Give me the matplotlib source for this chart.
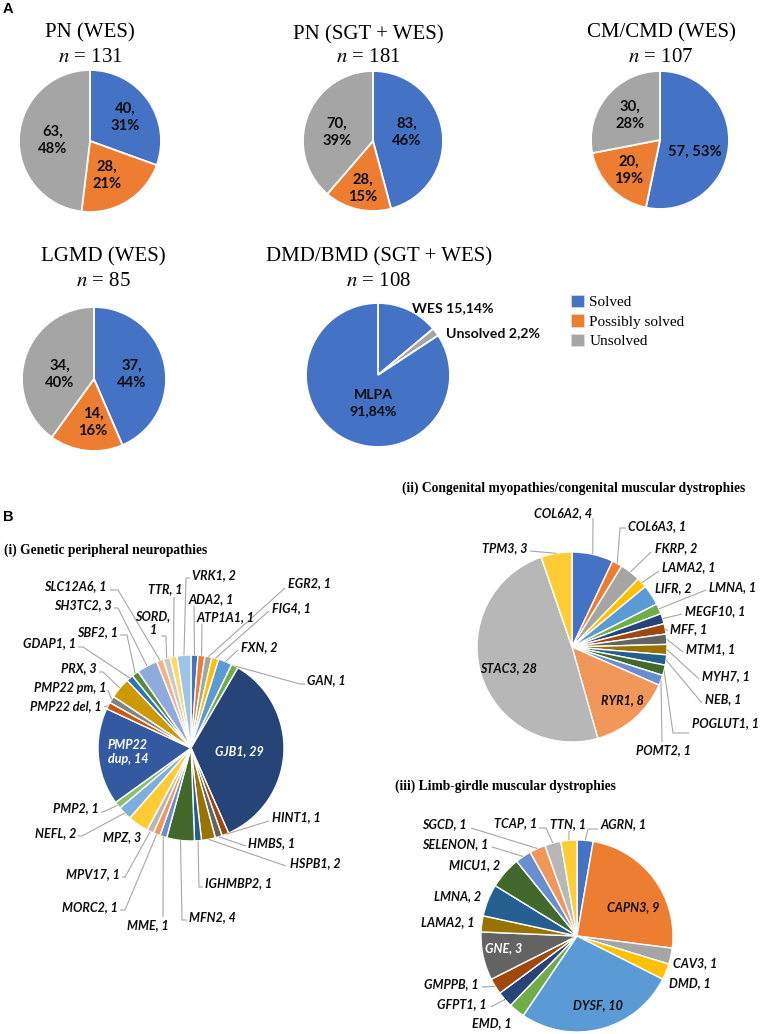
import matplotlib
matplotlib.use('Agg')
import matplotlib.pyplot as plt
import numpy as np

W, H = 760, 1034
plt.rcParams['mathtext.fontset'] = 'stix'

# ---------------- data: panel A ----------------
status_labels = ['Solved', 'Possibly solved', 'Unsolved']
status_colors = ['#4472C4', '#ED7D31', '#A5A5A5']

panelA_titles = ['PN (WES)', 'PN (SGT + WES)', 'CM/CMD (WES)', 'LGMD (WES)', 'DMD/BMD (SGT + WES)']
panelA_n = [131, 181, 107, 85, 108]
pn_wes = [40, 28, 63]
pn_sgt_wes = [83, 28, 70]
cm_cmd_wes = [57, 20, 30]
lgmd_wes = [37, 14, 34]

dmd_parts = ['WES', 'Unsolved', 'MLPA']
dmd_values = [15, 2, 91]
dmd_status = [0, 2, 0]

# ---------------- data: panel B ----------------
pn_genes = ['ADA2', 'ATP1A1', 'EGR2', 'FIG4', 'FXN', 'GAN', 'GJB1', 'HINT1', 'HMBS', 'HSPB1',
            'IGHMBP2', 'MFN2', 'MME', 'MORC2', 'MPV17', 'MPZ', 'NEFL', 'PMP2', 'PMP22 dup',
            'PMP22 del', 'PMP22 pm', 'PRX', 'GDAP1', 'SBF2', 'SH3TC2', 'SLC12A6', 'SORD', 'TTR', 'VRK1']
pn_counts = [1, 1, 1, 1, 2, 1, 29, 1, 1, 2, 1, 4, 1, 1, 1, 3, 2, 1, 14, 1, 1, 3, 1, 1, 3, 1, 1, 1, 2]

cm_genes = ['COL6A2', 'COL6A3', 'FKRP', 'LAMA2', 'LIFR', 'LMNA', 'MEGF10', 'MFF', 'MTM1', 'MYH7',
            'NEB', 'POGLUT1', 'POMT2', 'RYR1', 'STAC3', 'TPM3']
cm_counts = [4, 1, 2, 1, 2, 1, 1, 1, 1, 1, 1, 1, 1, 8, 28, 3]

lg_genes = ['AGRN', 'CAPN3', 'CAV3', 'DMD', 'DYSF', 'EMD', 'GFPT1', 'GMPPB', 'GNE', 'LAMA2',
            'LMNA', 'MICU1', 'SELENON', 'SGCD', 'TCAP', 'TTN']
lg_counts = [1, 9, 1, 1, 10, 1, 1, 1, 3, 1, 2, 2, 1, 1, 1, 1]

panelB_titles = ['(i) Genetic peripheral neuropathies',
                 '(ii) Congenital myopathies/congenital muscular dystrophies',
                 '(iii) Limb-girdle muscular dystrophies']

# ---------------- style ----------------
office = ['#4472C4', '#ED7D31', '#A5A5A5', '#FFC000', '#5B9BD5', '#70AD47',
          '#264478', '#9E480E', '#636363', '#997300', '#255E91', '#43682B',
          '#698ED0', '#F1975A', '#B7B7B7', '#FFCD33', '#7CAFDD', '#8CC168',
          '#335AA1', '#C55A11', '#848484', '#CC9A00', '#2E75B6', '#5A8A39',
          '#8FAADC', '#F4B183', '#C9C9C9', '#FFD966', '#9DC3E6', '#A9D18E']
LEAD = '#A6A6A6'
SERIF = 'Liberation Serif'
LBL = 'Lato'

fig = plt.figure(figsize=(W / 100, H / 100), dpi=100)
ax = fig.add_axes([0, 0, 1, 1])


def Y(y):
    return H - y


def draw_pie(values, colors, cx, cy, r, lw=1.3):
    wedges, _ = ax.pie(values, colors=colors, startangle=90, counterclock=False,
                       center=(cx, Y(cy)), radius=r,
                       wedgeprops=dict(edgecolor='white', linewidth=lw))
    return wedges


def anchors(values, cx, cy, r):
    v = np.asarray(values, float)
    mids = (np.cumsum(v) - v / 2) / v.sum() * 2 * np.pi
    return [(cx + r * np.sin(t), cy - r * np.cos(t)) for t in mids]


# ---------------- panel A ----------------
A_geom = [(90, 141, 71), (373, 141, 70), (660, 140, 69), (94, 379, 72), (378, 375, 72)]
A_title_pos = [(90, 33, 57), (368, 35, 58), (661, 33, 57), (103, 257, 282), (379, 257, 281)]
A_values = [pn_wes, pn_sgt_wes, cm_cmd_wes, lgmd_wes]
A_label_pos = [
    [(125, 117), (107, 175), (53, 140)],
    [(407, 132), (363, 188), (337, 132)],
    [(695, 152), (629, 170), (630, 115)],
    [(132, 374), (93, 422), (60, 374)],
]
A_single = [[False] * 3, [False] * 3, [True, False, False], [False] * 3]

for i, (tx, ty, ny) in enumerate(A_title_pos):
    ax.text(tx, Y(ty), panelA_titles[i], ha='center', va='center', fontsize=15, family=SERIF)
    ax.text(tx, Y(ny), r'$n$ = %d' % panelA_n[i], ha='center', va='center', fontsize=15, family=SERIF)

legend_wedges = None
for i, vals in enumerate(A_values):
    cx, cy, r = A_geom[i]
    w = draw_pie(vals, status_colors, cx, cy, r)
    if legend_wedges is None:
        legend_wedges = w
    tot = sum(vals)
    for j, v in enumerate(vals):
        sep = ' ' if A_single[i][j] else '\n'
        lx, ly = A_label_pos[i][j]
        ax.text(lx, Y(ly), f'{v},{sep}{round(100 * v / tot)}%', ha='center', va='center',
                fontsize=10.6, family=LBL, weight='bold', linespacing=1.3, color='#0d0d0d')

# DMD/BMD pie
cx, cy, r = A_geom[4]
draw_pie(dmd_values, [status_colors[s] for s in dmd_status], cx, cy, r)
dtot = sum(dmd_values)
dmd_pos = [(453, 308, False), (493, 333, False), (373, 403, True)]
for j, v in enumerate(dmd_values):
    lx, ly, two = dmd_pos[j]
    sep = '\n' if two else ' '
    ax.text(lx, Y(ly), f'{dmd_parts[j]}{sep}{v},{round(100 * v / dtot)}%', ha='center', va='center',
            fontsize=10.2, family=LBL, weight='bold', linespacing=1.45, color='#0d0d0d')

leg = ax.legend(legend_wedges, status_labels, loc='upper left', bbox_to_anchor=(571, Y(295)),
                bbox_transform=ax.transData, frameon=False, borderpad=0, borderaxespad=0,
                handlelength=0.85, handleheight=0.85, handletextpad=0.35, labelspacing=0.33,
                prop=dict(family=SERIF, size=11))
for h in leg.legend_handles:
    h.set_edgecolor('#DDDDDD')
    h.set_linewidth(0.5)

ax.text(3, Y(9), 'A', ha='left', va='center', fontsize=10.5, weight='bold', family='Liberation Sans')
ax.text(3, Y(517), 'B', ha='left', va='center', fontsize=10.5, weight='bold', family='Liberation Sans')

# ---------------- panel B ----------------
B_title_pos = [(4, 550), (402, 488), (395, 786)]
for (tx, ty), t in zip(B_title_pos, panelB_titles):
    ax.text(tx, Y(ty), t, ha='left', va='center', fontsize=9.75, weight='bold', family=SERIF)

# label layout: (x, y, ha, leader points | None | inside text colour, line-break mode)
pn_layout = [
    (188, 599, 'left', [(194, 606)], 0),
    (196, 617, 'left', [(202, 624)], 0),
    (288, 583, 'left', [(285, 588)], 0),
    (272, 608, 'left', [(269, 611)], 0),
    (241, 647, 'left', [(238, 650)], 0),
    (307, 680, 'left', [(300, 684), (305, 684)], 0),
    (239, 751, 'center', 'white', 0),
    (272, 817, 'left', [(269, 821)], 0),
    (248, 843, 'left', [(246, 846)], 0),
    (290, 863, 'left', [(286, 866)], 0),
    (205, 883, 'left', [(199, 887), (203, 887)], 0),
    (189, 917, 'left', [(182, 920), (187, 920)], 0),
    (148, 925, 'center', [(163, 917)], 0),
    (118, 907, 'right', [(125, 910), (120, 910)], 0),
    (120, 874, 'right', [(125, 877), (122, 877)], 0),
    (122, 837, 'center', None, 0),
    (76, 833, 'right', [(82, 836), (78, 836)], 0),
    (99, 808, 'right', [(103, 812), (101, 812)], 0),
    (128, 752, 'center', 'white', 2),
    (102, 706, 'right', [(104, 707)], 0),
    (106, 688, 'right', [(108, 690)], 0),
    (97, 668, 'right', [(103, 672), (99, 672)], 0),
    (76, 643, 'right', [(83, 647), (78, 647)], 0),
    (118, 632, 'right', [(127, 635), (120, 635)], 0),
    (112, 605, 'right', [(118, 608), (114, 608)], 0),
    (107, 586, 'right', [(118, 590), (110, 590)], 0),
    (153, 623, 'center', [(166, 636), (161, 636)], 1),
    (165, 589, 'center', [(174, 597)], 0),
    (192, 575, 'left', [(186, 578), (190, 578)], 0),
]

cm_layout = [
    (592, 513, 'right', [(593, 518)], 0),
    (628, 526, 'left', [(620, 528), (626, 528)], 0),
    (655, 548, 'left', [(651, 552)], 0),
    (662, 567, 'left', [(659, 571)], 0),
    (655, 588, 'left', None, 0),
    (709, 587, 'left', [(706, 590)], 0),
    (685, 611, 'left', [(682, 614)], 0),
    (670, 629, 'left', [(668, 631)], 0),
    (686, 649, 'left', [(683, 652)], 0),
    (702, 676, 'left', [(699, 679)], 0),
    (705, 699, 'left', [(702, 703)], 0),
    (692, 723, 'left', [(673, 733), (689, 733)], 0),
    (663, 750, 'center', [(662, 742)], 0),
    (622, 700, 'center', 'black', 0),
    (508, 668, 'center', 'black', 0),
    (527, 548, 'right', [(530, 551)], 0),
]

lg_layout = [
    (600, 824, 'left', [(588, 829), (598, 829)], 0),
    (633, 907, 'center', 'black', 0),
    (695, 963, 'center', None, 0),
    (690, 983, 'center', None, 0),
    (598, 1005, 'center', 'black', 0),
    (492, 1023, 'center', None, 0),
    (487, 1004, 'right', [(491, 1007)], 0),
    (479, 984, 'right', [(482, 987)], 0),
    (504, 948, 'center', 'white', 0),
    (448, 922, 'center', None, 0),
    (458, 896, 'center', None, 0),
    (475, 865, 'center', None, 0),
    (488, 844, 'right', [(492, 847)], 0),
    (467, 824, 'right', [(471, 828)], 0),
    (537, 823, 'right', [(546, 828), (539, 828)], 0),
    (568, 824, 'center', [(569, 831)], 0),
]

B_geom = [(191, 748, 93), (572, 647, 95), (577, 936, 96)]
B_sets = [(pn_genes, pn_counts, pn_layout), (cm_genes, cm_counts, cm_layout), (lg_genes, lg_counts, lg_layout)]

for (genes, counts, layout), (cx, cy, r) in zip(B_sets, B_geom):
    draw_pie(counts, office[:len(counts)], cx, cy, r, lw=1.0)
    anc = anchors(counts, cx, cy, r)
    for k, (g, c) in enumerate(zip(genes, counts)):
        lx, ly, ha, lead, mode = layout[k]
        if mode == 1:
            s = f'{g},\n{c}'
        elif mode == 2:
            a, b = g.split(' ', 1)
            s = f'{a}\n{b}, {c}'
        else:
            s = f'{g}, {c}'
        col = '#0d0d0d'
        if isinstance(lead, str):
            col = lead if lead == 'white' else '#0d0d0d'
        elif lead is not None:
            pts = [anc[k]] + lead
            ax.plot([p[0] for p in pts], [Y(p[1]) for p in pts], color=LEAD, lw=0.8,
                    solid_capstyle='butt', zorder=1)
        ax.text(lx, Y(ly), s, ha=ha, va='center', fontsize=9, family=LBL, weight='bold',
                style='italic', color=col, linespacing=1.25)

ax.set_xlim(0, W)
ax.set_ylim(0, H)
ax.set_aspect('equal')
ax.axis('off')
fig.savefig('out.png', dpi=100)
